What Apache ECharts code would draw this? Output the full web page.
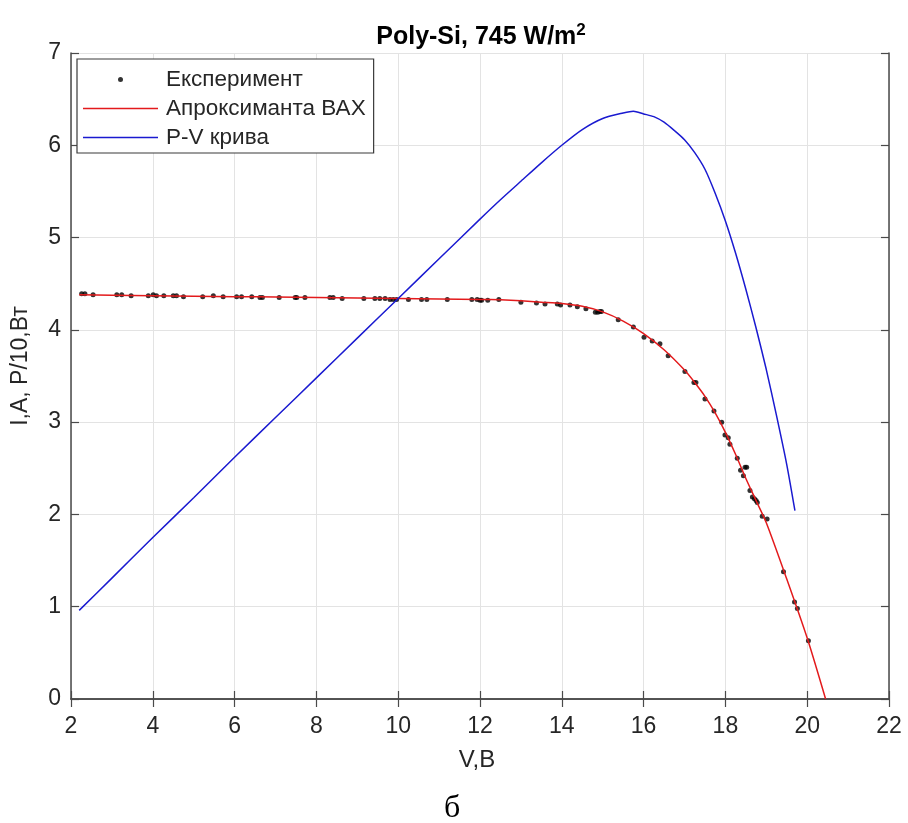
<!DOCTYPE html>
<html>
<head>
<meta charset="utf-8">
<script src="https://cdn.jsdelivr.net/npm/echarts@6/dist/echarts.min.js"></script>
<style>html,body{margin:0;padding:0;background:#fff;}#c{width:908px;height:823px;}</style>
</head>
<body>
<div id="c"></div>
<script>
// Experimental points (V, I)
const expV = [2.26,2.34,2.54,3.12,3.24,3.47,3.89,4.01,4.09,4.27,4.50,4.58,4.75,5.22,5.48,5.72,6.05,6.17,6.42,6.62,6.68,7.09,7.48,7.52,7.72,8.33,8.41,8.63,9.16,9.43,9.55,9.68,9.80,9.88,9.96,10.25,10.57,10.70,11.2,
  11.80,11.93,12.0,12.04,12.19,12.46,13.0,13.38,13.59,13.89,13.97,14.2,14.38,14.59,14.82,14.88,14.93,14.97,15.38,15.75,16.01,16.21,16.40,16.60,17.01,17.23,17.28,17.50,17.72,17.91,17.99,18.07,18.11,
  18.29,18.37,18.44,18.48,18.52,18.60,18.66,18.71,18.75,18.78,18.90,19.02,19.42,19.69,19.76,20.03];
const expI = [4.39,4.39,4.38,4.38,4.38,4.37,4.37,4.38,4.37,4.37,4.37,4.37,4.36,4.36,4.37,4.36,4.36,4.36,4.36,4.35,4.35,4.35,4.35,4.35,4.35,4.35,4.35,4.34,4.34,4.34,4.34,4.34,4.33,4.33,4.33,4.33,4.33,4.33,4.33,
  4.33,4.33,4.32,4.32,4.32,4.33,4.30,4.29,4.28,4.28,4.27,4.27,4.25,4.23,4.19,4.19,4.20,4.20,4.11,4.03,3.92,3.88,3.85,3.72,3.55,3.43,3.43,3.25,3.12,3.00,2.86,2.83,2.76,
  2.61,2.48,2.42,2.51,2.51,2.26,2.19,2.17,2.15,2.13,1.98,1.95,1.38,1.05,0.98,0.63];
// Fitted I-V curve
const fitV = [2.2,3,4,5,6,7,8,9,10,11,12,12.5,13,13.5,14,14.5,15,15.5,16,16.5,17,17.25,17.5,17.75,18,18.25,18.5,18.75,19,19.5,20,20.45];
const fitI = [4.38,4.376,4.37,4.365,4.36,4.355,4.35,4.345,4.34,4.335,4.33,4.325,4.315,4.30,4.285,4.255,4.195,4.095,3.96,3.785,3.565,3.43,3.28,3.10,2.89,2.65,2.39,2.15,1.91,1.30,0.66,0.0];
// P-V curve (P/10)
const pvV = [2.2,3,4,5,6,7,8,9,10,11,12,12.5,13,13.5,14,14.5,15,15.5,15.75,16,16.25,16.5,16.75,17,17.25,17.5,17.75,18,18.25,18.5,18.75,19,19.25,19.5,19.7];
const pvP = [0.96,1.31,1.75,2.18,2.62,3.05,3.48,3.91,4.34,4.77,5.20,5.41,5.61,5.81,6.00,6.17,6.29,6.35,6.37,6.34,6.31,6.25,6.16,6.06,5.92,5.74,5.48,5.18,4.83,4.44,4.02,3.57,3.07,2.54,2.04];
const xTicks = [2,22,2];
const yTicks = [0,7,1];
const seriesNames = ['Експеримент','Апроксиманта ВАХ','P-V крива'];

const zip = (a,b) => a.map((v,i)=>[v,b[i]]);
const axisColor = '#4a4a4a';
const textColor = '#262626';
const font = 'Liberation Sans, Arial, sans-serif';
const lineIcon = 'path://M0,0 L100,0 L100,2 L0,2 Z';

const chart = echarts.init(document.getElementById('c'), null, {renderer:'canvas'});
const baseX = {type:'value', min:xTicks[0], max:xTicks[1], interval:xTicks[2]};
const baseY = {type:'value', min:yTicks[0], max:yTicks[1], interval:yTicks[2]};
chart.setOption({
  animation:false,
  backgroundColor:'#fff',
  title:{
    text:'{a|Poly-Si, 745 W/m}{s|2}',
    left:476, top:17, textAlign:'center',
    textStyle:{rich:{
      a:{fontFamily:font, fontWeight:'bold', fontSize:25, color:'#000'},
      s:{fontFamily:font, fontWeight:'bold', fontSize:17, color:'#000', padding:[0,0,14,0]}
    }}
  },
  grid:{left:71, right:19, top:53, bottom:124, containLabel:false},
  legend:{
    data:[
      {name:seriesNames[0], icon:'circle'},
      {name:seriesNames[1], icon:lineIcon},
      {name:seriesNames[2], icon:lineIcon}
    ],
    orient:'vertical', left:77, top:59,
    itemWidth:75, itemHeight:5, itemGap:6,
    padding:[9,8,4,6],
    borderColor:'#3a3a3a', borderWidth:1.2, backgroundColor:'#fff',
    textStyle:{fontFamily:font, fontSize:22.5, color:textColor, padding:[0,0,0,3]}
  },
  xAxis:[
    Object.assign({}, baseX, {
      position:'bottom',
      name:'V,B', nameLocation:'middle', nameGap:49,
      nameTextStyle:{fontFamily:font, fontSize:24, color:textColor, padding:[0,6,0,0]},
      axisLine:{show:true, lineStyle:{color:axisColor, width:1.5}},
      axisTick:{show:true, inside:true, length:8, lineStyle:{color:axisColor, width:1.2}},
      axisLabel:{fontFamily:font, fontSize:23, color:textColor, margin:16},
      splitLine:{show:true, lineStyle:{color:'#e3e3e3', width:1}}
    }),
    Object.assign({}, baseX, {
      position:'top',
      axisLine:{show:true, lineStyle:{color:axisColor, width:1.5}},
      axisTick:{show:true, inside:true, length:8, lineStyle:{color:axisColor, width:1.2}},
      axisLabel:{show:false}, splitLine:{show:false}
    })
  ],
  yAxis:[
    Object.assign({}, baseY, {
      position:'left',
      axisLine:{show:true, lineStyle:{color:axisColor, width:1.5}},
      axisTick:{show:true, inside:true, length:8, lineStyle:{color:axisColor, width:1.2}},
      axisLabel:{fontFamily:font, fontSize:23, color:textColor, margin:10},
      splitLine:{show:true, lineStyle:{color:'#e3e3e3', width:1}}
    }),
    Object.assign({}, baseY, {
      position:'right',
      axisLine:{show:true, lineStyle:{color:axisColor, width:1.5}},
      axisTick:{show:true, inside:true, length:8, lineStyle:{color:axisColor, width:1.2}},
      axisLabel:{show:false}, splitLine:{show:false}
    })
  ],
  graphic:[
    {
      type:'text', x:21, y:366, rotation:Math.PI/2,
      style:{text:'I,A, P/10,Вт', fontFamily:font, fontSize:23, fill:textColor, align:'center', verticalAlign:'middle'}
    },
    {
      type:'text', left:444, top:793,
      style:{text:'б', fontFamily:'Liberation Serif, Times New Roman, serif', fontSize:32, fill:'#000'}
    }
  ],
  series:[
    {
      name:seriesNames[0], type:'scatter', xAxisIndex:0, yAxisIndex:0,
      data:zip(expV, expI), symbol:'circle', symbolSize:5,
      itemStyle:{color:'#000'}, z:2
    },
    {
      name:seriesNames[1], type:'line', xAxisIndex:0, yAxisIndex:0,
      data:zip(fitV, fitI), symbol:'none', smooth:0.25,
      lineStyle:{color:'#e31a1c', width:1.5}, itemStyle:{color:'#e31a1c'}, z:3
    },
    {
      name:seriesNames[2], type:'line', xAxisIndex:0, yAxisIndex:0,
      data:zip(pvV, pvP), symbol:'none', smooth:0.25,
      lineStyle:{color:'#1a1ad0', width:1.5}, itemStyle:{color:'#1a1ad0'}, z:3
    }
  ]
});
</script>
</body>
</html>
